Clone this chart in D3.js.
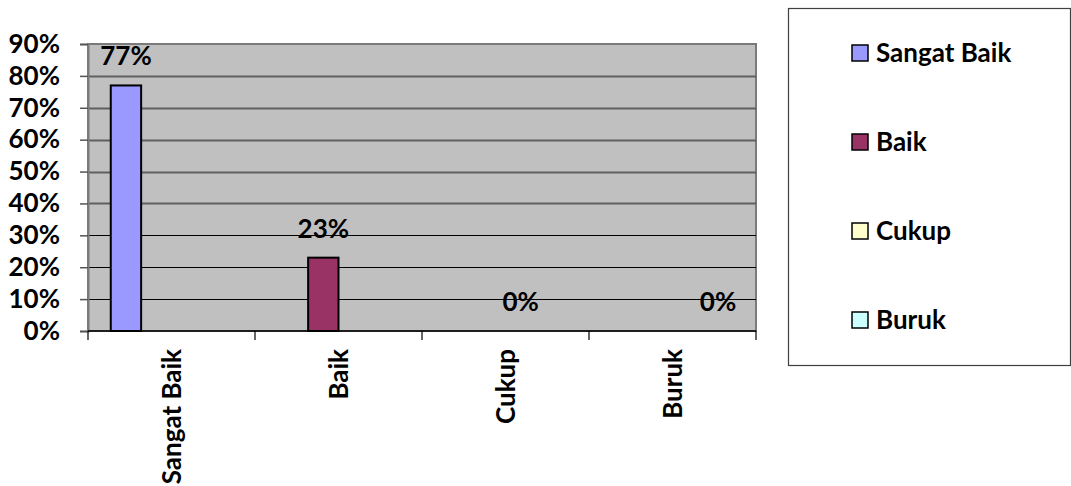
<!DOCTYPE html>
<html>
<head>
<meta charset="utf-8">
<script src="https://cdn.jsdelivr.net/npm/d3@7"></script>
<style>
html,body{margin:0;padding:0;background:#fff;}
svg{display:block;}
text{font-family:Lato,"Open Sans",sans-serif;font-weight:700;fill:#000;}
</style>
</head>
<body>
<svg id="chart" width="1071" height="486"></svg>
<script>
const categories = ["Sangat Baik", "Baik", "Cukup", "Buruk"];
const seriesNames = ["Sangat Baik", "Baik", "Cukup", "Buruk"];
const sangatBaikValues = [0.77, null, null, null];
const baikValues = [null, 0.23, null, null];
const cukupValues = [null, null, 0, null];
const burukValues = [null, null, null, 0];
const yTickValues = [0, 0.1, 0.2, 0.3, 0.4, 0.5, 0.6, 0.7, 0.8, 0.9];
const seriesColors = ["#9999FF", "#993366", "#FFFFCC", "#CCFFFF"];

const seriesValues = [sangatBaikValues, baikValues, cukupValues, burukValues];
const series = seriesNames.map((name, i) => ({name, color: seriesColors[i], values: seriesValues[i]}));

const svg = d3.select("#chart");
const FS = 26;
const plot = {left: 88, right: 756, top: 44, bottom: 331};

const x0 = d3.scaleBand().domain(categories).range([plot.left, plot.right]).paddingInner(0).paddingOuter(0);
const x1 = d3.scaleBand().domain(seriesNames).range([0, x0.bandwidth()]).paddingInner(0).paddingOuter(0.75);
const y = d3.scaleLinear().domain([0, 0.9]).range([plot.bottom, plot.top]);
const pct = d3.format(".0%");

// plot background
svg.append("rect")
  .attr("x", plot.left).attr("y", plot.top)
  .attr("width", plot.right - plot.left).attr("height", plot.bottom - plot.top)
  .attr("fill", "#C0C0C0").attr("stroke", "#7a7a7a").attr("stroke-width", 2);

// gridlines
svg.append("g").selectAll("line").data(yTickValues.filter(v => v > 0 && v < 0.9)).join("line")
  .attr("x1", plot.left).attr("x2", plot.right)
  .attr("y1", d => Math.round(y(d)) + 0.5).attr("y2", d => Math.round(y(d)) + 0.5)
  .attr("stroke", d => d >= 0.35 ? "#606060" : "#000")
  .attr("stroke-width", d => d >= 0.35 ? 2 : 1.2);

// y axis
const yAxis = svg.append("g").attr("transform", `translate(${plot.left},0)`)
  .call(d3.axisLeft(y).tickValues(yTickValues).tickFormat(pct).tickSize(8).tickPadding(20));
yAxis.select(".domain").attr("stroke", "#7a7a7a").attr("stroke-width", 2);
yAxis.selectAll(".tick line").attr("stroke", "#555").attr("stroke-width", 1.5);
yAxis.selectAll(".tick text").attr("font-size", FS).attr("font-family", "Lato").attr("font-weight", 700).attr("fill", "#000");

// x axis
const xAxis = svg.append("g").attr("transform", `translate(0,${plot.bottom})`)
  .call(d3.axisBottom(x0).tickSize(0).tickFormat(""));
xAxis.select(".domain").remove();
svg.append("line").attr("x1", plot.left).attr("x2", plot.right)
  .attr("y1", plot.bottom).attr("y2", plot.bottom).attr("stroke", "#000").attr("stroke-width", 1.5);
// boundary ticks
const boundaries = categories.map(c => x0(c)).concat([x0(categories[categories.length - 1]) + x0.bandwidth()]);
svg.append("g").selectAll("line").data(boundaries).join("line")
  .attr("x1", d => d).attr("x2", d => d)
  .attr("y1", plot.bottom).attr("y2", plot.bottom + 9)
  .attr("stroke", "#000").attr("stroke-width", 1.2);
// category labels rotated
svg.append("g").selectAll("text").data(categories).join("text")
  .attr("transform", d => `translate(${x0(d) + x0.bandwidth() / 2 + 9},${plot.bottom + 18}) rotate(-90)`)
  .attr("text-anchor", "end")
  .attr("font-size", FS)
  .text(d => d);

// bars
const groups = svg.append("g").selectAll("g").data(series).join("g");
groups.each(function(s) {
  const g = d3.select(this);
  const pts = categories.map((c, i) => ({c, v: s.values[i]})).filter(p => p.v !== null);
  g.selectAll("rect").data(pts.filter(p => p.v > 0)).join("rect")
    .attr("x", p => x0(p.c) + x1(s.name))
    .attr("y", p => y(p.v))
    .attr("width", x1.bandwidth())
    .attr("height", p => y(0) - y(p.v))
    .attr("fill", s.color)
    .attr("stroke", "#000").attr("stroke-width", 2);
  g.selectAll("text").data(pts).join("text")
    .attr("x", p => x0(p.c) + x1(s.name) + x1.bandwidth() / 2)
    .attr("y", p => y(p.v) - 20)
    .attr("text-anchor", "middle")
    .attr("font-size", FS)
    .text(p => pct(p.v));
});

// legend
const legend = {x: 788, y: 8, w: 282, h: 357};
svg.append("rect").attr("x", legend.x + 0.5).attr("y", legend.y + 0.5)
  .attr("width", legend.w).attr("height", legend.h)
  .attr("fill", "#fff").attr("stroke", "#404040").attr("stroke-width", 1.2);
const ly = d3.scalePoint().domain(seriesNames).range([53, 320]);
const li = svg.append("g").selectAll("g").data(series).join("g")
  .attr("transform", s => `translate(852,${ly(s.name)})`);
li.append("rect").attr("x", 0).attr("y", -8).attr("width", 16).attr("height", 16)
  .attr("fill", s => s.color).attr("stroke", "#000").attr("stroke-width", 1.5);
li.append("text").attr("x", 24).attr("y", 0).attr("dy", "0.35em")
  .attr("font-size", FS).text(s => s.name);
</script>
</body>
</html>
